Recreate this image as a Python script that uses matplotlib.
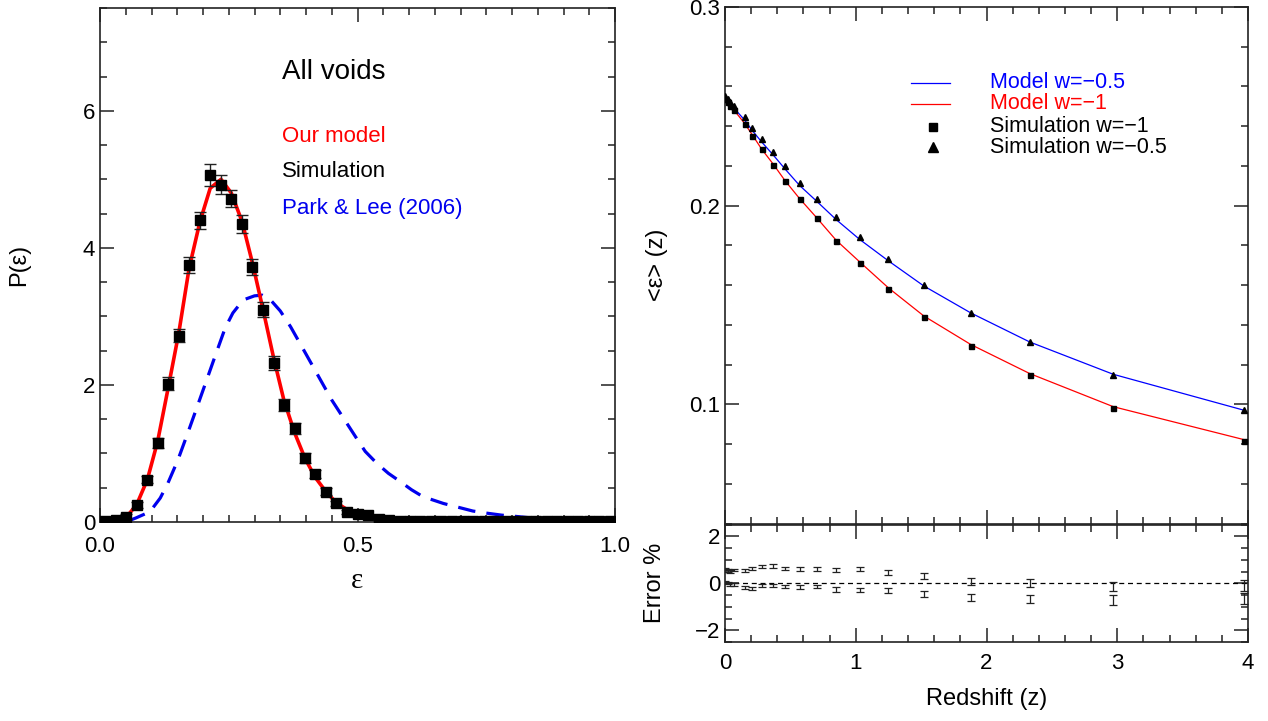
import numpy as np
import matplotlib
matplotlib.use("Agg")
import matplotlib.pyplot as plt
from matplotlib.ticker import MultipleLocator

plt.rcParams["font.family"] = ["Liberation Sans", "DejaVu Sans"]
plt.rcParams["axes.unicode_minus"] = True

# ---- left panel: ellipticity distribution ----
eps_bins = [0.010, 0.031, 0.051, 0.071, 0.092, 0.112, 0.133, 0.153, 0.173, 0.194,
            0.214, 0.235, 0.255, 0.276, 0.296, 0.316, 0.337, 0.357, 0.378, 0.398,
            0.418, 0.439, 0.459, 0.480, 0.500, 0.520, 0.541, 0.561, 0.582, 0.602,
            0.622, 0.643, 0.663, 0.684, 0.704, 0.724, 0.745, 0.765, 0.786, 0.806,
            0.827, 0.847, 0.867, 0.888, 0.908, 0.929, 0.949, 0.969, 0.990]
p_model = [0.0, 0.01, 0.07, 0.25, 0.62, 1.18, 1.98, 2.76, 3.70, 4.38,
           4.87, 5.00, 4.80, 4.38, 3.78, 3.12, 2.40, 1.78, 1.30, 0.93,
           0.65, 0.44, 0.28, 0.18, 0.12, 0.07, 0.045, 0.03, 0.02, 0.012,
           0.008, 0.005, 0.004, 0.003, 0.002, 0.002, 0.001, 0.001, 0.001, 0.0,
           0.0, 0.0, 0.0, 0.0, 0.0, 0.0, 0.0, 0.0, 0.0]
p_sim = [0.02, 0.03, 0.08, 0.25, 0.62, 1.15, 2.02, 2.72, 3.75, 4.40,
         5.06, 4.92, 4.72, 4.35, 3.72, 3.10, 2.32, 1.71, 1.37, 0.93,
         0.70, 0.44, 0.27, 0.14, 0.11, 0.10, 0.04, 0.03, 0.02, 0.01,
         0.01, 0.01, 0.01, 0.01, 0.01, 0.01, 0.01, 0.01, 0.01, 0.01,
         0.01, 0.01, 0.01, 0.01, 0.01, 0.01, 0.01, 0.01, 0.01]
p_sim_err = [0.01, 0.015, 0.03, 0.04, 0.05, 0.07, 0.09, 0.10, 0.12, 0.13,
             0.16, 0.14, 0.13, 0.13, 0.12, 0.11, 0.10, 0.09, 0.08, 0.07,
             0.06, 0.05, 0.04, 0.03, 0.03, 0.02, 0.02, 0.015, 0.01, 0.01,
             0.01, 0.01, 0.01, 0.01, 0.01, 0.01, 0.01, 0.01, 0.01, 0.01,
             0.01, 0.01, 0.01, 0.01, 0.01, 0.01, 0.01, 0.01, 0.01]
eps_pl = [0.0, 0.05, 0.07, 0.097, 0.117, 0.132, 0.151, 0.171, 0.19, 0.207,
          0.223, 0.243, 0.258, 0.278, 0.30, 0.315, 0.33, 0.35, 0.37, 0.40,
          0.45, 0.50, 0.515, 0.537, 0.56, 0.583, 0.605, 0.627, 0.667, 0.693,
          0.724, 0.75, 0.78, 0.81, 0.85, 0.90, 0.95, 1.0]
p_pl = [0.0, 0.0, 0.06, 0.15, 0.35, 0.57, 0.90, 1.31, 1.71, 2.07,
        2.41, 2.83, 3.05, 3.24, 3.30, 3.31, 3.25, 3.08, 2.85, 2.45,
        1.78, 1.20, 1.03, 0.86, 0.71, 0.59, 0.47, 0.37, 0.27, 0.22,
        0.16, 0.13, 0.10, 0.08, 0.05, 0.03, 0.015, 0.01]

# ---- right panel: mean ellipticity vs redshift ----
z_snap = [0.0, 0.02, 0.04, 0.07, 0.15, 0.21, 0.28, 0.37, 0.46, 0.57,
          0.70, 0.85, 1.03, 1.25, 1.52, 1.88, 2.33, 2.97, 3.97]
model_w1 = [0.2535, 0.252, 0.2505, 0.248, 0.2414, 0.2355, 0.2285, 0.2208, 0.2125, 0.2036,
            0.1940, 0.1826, 0.1717, 0.1586, 0.1445, 0.1301, 0.1155, 0.0988, 0.0822]
model_w05 = [0.2535, 0.2523, 0.251, 0.249, 0.2431, 0.2377, 0.2321, 0.2254, 0.2184, 0.2102,
             0.2023, 0.1930, 0.1830, 0.1722, 0.1596, 0.1460, 0.1314, 0.1151, 0.0970]
sim_w1 = [0.2536, 0.2521, 0.2504, 0.2479, 0.2410, 0.2350, 0.2283, 0.2206, 0.2122, 0.2033,
          0.1937, 0.1821, 0.1712, 0.1581, 0.1438, 0.1293, 0.1147, 0.0981, 0.0817]
sim_w05 = [0.2550, 0.2536, 0.2524, 0.2504, 0.2444, 0.2392, 0.2337, 0.2271, 0.2198, 0.2115,
           0.2036, 0.1941, 0.1841, 0.1730, 0.1601, 0.1461, 0.1314, 0.1149, 0.0969]
err_a = [0.60, 0.55, 0.50, 0.56, 0.53, 0.64, 0.71, 0.74, 0.64, 0.60,
         0.62, 0.56, 0.60, 0.46, 0.32, 0.08, 0.0, -0.14, -0.10]
err_b = [0.05, 0.0, -0.05, -0.05, -0.19, -0.23, -0.10, -0.10, -0.14, -0.17,
         -0.14, -0.27, -0.30, -0.30, -0.47, -0.61, -0.69, -0.72, -0.66]
err_size = [0.05, 0.05, 0.05, 0.05, 0.06, 0.06, 0.06, 0.07, 0.07, 0.08,
            0.08, 0.09, 0.09, 0.10, 0.12, 0.15, 0.17, 0.21, 0.24]

W, H = 1268, 721
fig = plt.figure(figsize=(W / 100, H / 100), dpi=100)


def box(x0, x1, ytop, ybot):
    return [x0 / W, 1 - ybot / H, (x1 - x0) / W, (ybot - ytop) / H]


def style(ax, major_len=10, minor_len=5):
    for s in ax.spines.values():
        s.set_color("#222222")
        s.set_linewidth(1.2)
    ax.tick_params(which="both", direction="in", top=True, right=True,
                   labelsize=16, color="#222222", width=1.1)
    ax.tick_params(which="major", length=major_len)
    ax.tick_params(which="minor", length=minor_len)


# left panel
ax1 = fig.add_axes(box(100, 615, 8, 522))
ax1.plot(eps_pl, p_pl, color="#0000ee", lw=2.3, dashes=(5.5, 3.5))
ax1.plot(eps_bins, p_model, color="#ff0000", lw=2.6, zorder=3)
ax1.errorbar(eps_bins, p_sim, yerr=p_sim_err, fmt="s", color="black", ms=6.5,
             ecolor="#222222", elinewidth=1.0, capsize=4, capthick=1.0, zorder=4)
ax1.set_xlim(0, 1)
ax1.set_ylim(0, 7.5)
ax1.xaxis.set_major_locator(MultipleLocator(0.5))
ax1.xaxis.set_minor_locator(MultipleLocator(0.05))
ax1.yaxis.set_major_locator(MultipleLocator(2))
ax1.yaxis.set_minor_locator(MultipleLocator(0.5))
ax1.xaxis.set_major_formatter(plt.FormatStrFormatter("%.1f"))
style(ax1)
ax1.tick_params(axis="x", pad=10)
ax1.set_xlabel("ε", fontsize=21, family=["Liberation Serif", "DejaVu Serif"], labelpad=8)
ax1.set_ylabel("P(ε)", fontsize=17, labelpad=38)
ax1.text(0.353, 6.57, "All voids", fontsize=20, va="center")
ax1.text(0.353, 5.62, "Our model", fontsize=16, color="#ff0000", va="center")
ax1.text(0.353, 5.12, "Simulation", fontsize=16, color="black", va="center")
ax1.text(0.353, 4.58, "Park & Lee (2006)", fontsize=16, color="#0000ee", va="center")

# right upper panel
ax2 = fig.add_axes(box(725, 1248, 7, 523.5))
ax2.plot(z_snap, model_w05, color="#0000ff", lw=0.9)
ax2.plot(z_snap, model_w1, color="#ff0000", lw=0.9)
ax2.plot(z_snap, sim_w1, "s", color="black", ms=3.6, zorder=4)
ax2.plot(z_snap, sim_w05, "^", color="black", ms=5, zorder=4)
ax2.set_xlim(0, 4)
ax2.set_ylim(0.04, 0.3)
ax2.xaxis.set_major_locator(MultipleLocator(1))
ax2.xaxis.set_minor_locator(MultipleLocator(0.2))
ax2.yaxis.set_major_locator(MultipleLocator(0.1))
ax2.yaxis.set_minor_locator(MultipleLocator(0.02))
ax2.yaxis.set_major_formatter(plt.FormatStrFormatter("%.1f"))
style(ax2)
ax2.tick_params(labelbottom=False)
ax2.set_ylabel("<ε> (z)", fontsize=17, labelpad=15)

# legend drawn by hand
tr = ax2.transAxes
rows = [0.853, 0.813, 0.768, 0.728]
ax2.plot([0.356, 0.430], [rows[0], rows[0]], color="#0000ff", lw=0.9, transform=tr)
ax2.plot([0.356, 0.430], [rows[1], rows[1]], color="#ff0000", lw=0.9, transform=tr)
ax2.plot([0.398], [rows[2]], "s", color="black", ms=6, transform=tr)
ax2.plot([0.398], [rows[3]], "^", color="black", ms=7.5, transform=tr)
ax2.text(0.507, rows[0], "Model w=\u22120.5", color="#0000ff", fontsize=15.5, va="center", transform=tr)
ax2.text(0.507, rows[1], "Model w=\u22121", color="#ff0000", fontsize=15.5, va="center", transform=tr)
ax2.text(0.507, rows[2], "Simulation w=\u22121", color="black", fontsize=15.5, va="center", transform=tr)
ax2.text(0.507, rows[3], "Simulation w=\u22120.5", color="black", fontsize=15.5, va="center", transform=tr)

# right lower panel
ax3 = fig.add_axes(box(725, 1248, 524.5, 642))
ax3.axhline(0, color="black", lw=0.9, dashes=(4, 3))
ax3.errorbar(z_snap, err_a, yerr=err_size, fmt="none", ecolor="#222222",
             elinewidth=0.9, capsize=2.6, capthick=0.9)
ax3.errorbar(z_snap, err_b, yerr=err_size, fmt="none", ecolor="#222222",
             elinewidth=0.9, capsize=2.6, capthick=0.9)
ax3.set_xlim(0, 4)
ax3.set_ylim(-2.5, 2.5)
ax3.xaxis.set_major_locator(MultipleLocator(1))
ax3.xaxis.set_minor_locator(MultipleLocator(0.2))
ax3.yaxis.set_major_locator(MultipleLocator(2))
ax3.yaxis.set_minor_locator(MultipleLocator(0.5))
style(ax3)
ax3.tick_params(axis="x", pad=8)
ax3.set_xlabel("Redshift (z)", fontsize=17, labelpad=10)
ax3.set_ylabel("Error %", fontsize=17, labelpad=21)

fig.savefig("out.png", dpi=100)
